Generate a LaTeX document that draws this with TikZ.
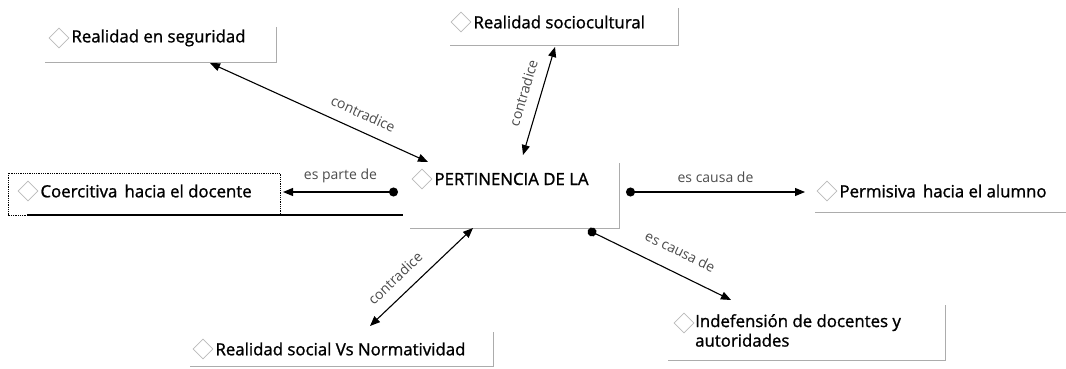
\documentclass[tikz,border=0pt]{standalone}
\usepackage{fontspec}
\setmainfont{Open Sans}
\newfontfamily\conceptofont[FakeBold=1.2]{Open Sans}
\usetikzlibrary{arrows.meta,positioning,shapes.geometric}

\tikzset{
  borde/.style={draw=gray!65, line width=0.8pt},
  icono/.style={diamond, draw=gray!55, line width=0.6pt, minimum width=20pt, minimum height=20pt, inner sep=0pt},
  concepto/.style={font=\conceptofont\fontsize{16.8}{19.5}\selectfont, inner sep=0pt, align=left},
  enlace/.style={font=\fontsize{14}{15}\selectfont, text=black!70, sloped},
  contradice/.style={line width=1.1pt, {Triangle[length=10pt,width=8pt]}-{Triangle[length=10pt,width=8pt]}},
  causa/.style={line width=1.1pt, {Circle[length=9pt]}-{Triangle[length=10pt,width=8pt]}},
}

\begin{document}
\begin{tikzpicture}[x=1pt,y=-1pt]
  \useasboundingbox (0,0) rectangle (1066,369);

  % cajas de los conceptos (solo borde derecho e inferior)
  \draw[borde] (276,27) |- (45,62);
  \draw[borde] (678,8) |- (450,45);
  \draw[borde] (619,163) |- (410,228);
  \draw[borde] (945,305) |- (668,360);
  \draw[borde] (493,332) |- (190,366);
  \draw[borde] (815,212) -- (1066,212);
  \draw[densely dotted, line width=0.8pt] (8,173) rectangle (280,215);
  \draw[line width=1.1pt] (27,215) -- (403,215);

  % iconos y textos
  \node[icono] (segIcono) at (59,38) {};
  \node[concepto, right=2pt of segIcono] (seg) {Realidad en seguridad};

  \node[icono] (socIcono) at (461,22) {};
  \node[concepto, right=2pt of socIcono] (soc) {Realidad sociocultural};

  \node[icono] (coerIcono) at (28,191) {};
  \node[concepto, right=2pt of coerIcono] (coer) {Coercitiva\, hacia el docente};

  \node[icono] (pertIcono) at (422,179) {};
  \node[concepto, right=2pt of pertIcono] (pert) {PERTINENCIA DE LA};

  \node[icono] (permIcono) at (827,191) {};
  \node[concepto, right=2pt of permIcono] (perm) {Permisiva\, hacia el alumno};

  \node[icono] (indefIcono) at (684,323) {};
  \node[concepto, anchor=north west] (indef) at (695,314) {Indefensión de docentes y\\autoridades};

  \node[icono] (sociIcono) at (203,349) {};
  \node[concepto, right=2pt of sociIcono] (soci) {Realidad social Vs Normatividad};

  % extremos de los enlaces
  \coordinate (segPunta) at (210,63);
  \coordinate (socPunta) at (555,47);
  \coordinate (pertArribaIzq) at (428,162);
  \coordinate (pertArriba) at (523,155);
  \coordinate (pertIzq) at (398,192);
  \coordinate (coerPunta) at (283,192);
  \coordinate (pertDer) at (626,192);
  \coordinate (permPunta) at (805,192);
  \coordinate (pertAbajoDer) at (588,230);
  \coordinate (indefPunta) at (731,300);
  \coordinate (pertAbajo) at (473,228);
  \coordinate (sociPunta) at (370,326);

  % enlaces
  \draw[contradice] (segPunta) -- node[enlace, pos=0.67, above=8pt] {contradice} (pertArribaIzq);
  \draw[contradice] (socPunta) -- node[enlace, pos=0.47, above=8pt] {contradice} (pertArriba);
  \draw[causa] (pertIzq) -- node[enlace, midway, above=5pt] {es parte de} (coerPunta);
  \draw[causa] (pertDer) -- node[enlace, midway, above=5pt] {es causa de} (permPunta);
  \draw[causa] (pertAbajoDer) -- node[enlace, pos=0.58, above=12pt] {es causa de} (indefPunta);
  \draw[contradice] (pertAbajo) -- node[enlace, pos=0.64, above=8pt] {contradice} (sociPunta);
\end{tikzpicture}
\end{document}
